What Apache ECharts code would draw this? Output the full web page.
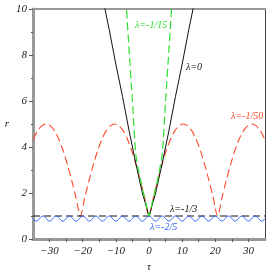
<!DOCTYPE html>
<html><head><meta charset="utf-8">
<script src="https://cdn.jsdelivr.net/npm/echarts@6/dist/echarts.min.js"></script>
<style>html,body{margin:0;padding:0;background:#fff}#c{width:270px;height:270px}</style>
</head><body><div id="c"></div>
<script>
// λ=0 (black solid)
const tauL0 = [-14,-12,-10,-8,-6,-4,-2,0,2,4,6,8,10,12,14];
const rL0   = [10.5,9.1,7.6,6.2,4.7,3.3,2.0,1,2.0,3.3,4.7,6.2,7.6,9.1,10.5];
// λ=-1/15 (green dashed)
const tauL15 = [-7.5,-6.8,-6,-5,-4,-3,-2,-1,0,1,2,3,4,5,6,6.8,7.5];
const rL15   = [11.5,10,8.2,6.0,3.7,2.85,2.2,1.6,1,1.6,2.2,2.85,3.7,6.0,8.2,10,11.5];
// λ=-1/50 (red dashed)
const tauL50 = [-34.94,-33.64,-32.35,-31.06,-29.76,-28.47,-27.17,-25.88,-24.59,-23.29,-22.0,-20.7,-19.41,-18.12,-16.82,-15.53,-14.23,-12.94,-11.65,-10.35,-9.06,-7.76,-6.47,-5.18,-3.88,-2.59,-1.29,0,1.29,2.59,3.88,5.18,6.47,7.76,9.06,10.35,11.65,12.94,14.23,15.53,16.82,18.12,19.41,20.7,22.0,23.29,24.59,25.88,27.17,28.47,29.76,31.06,32.35,33.64,34.94];
const rL50   = [4.33,4.70,4.92,5.0,4.92,4.70,4.33,3.83,3.22,2.53,1.78,1,1.78,2.53,3.22,3.83,4.33,4.70,4.92,5.0,4.92,4.70,4.33,3.83,3.22,2.53,1.78,1,1.78,2.53,3.22,3.83,4.33,4.70,4.92,5.0,4.92,4.70,4.33,3.83,3.22,2.53,1.78,1,1.78,2.53,3.22,3.83,4.33,4.70,4.92,5.0,4.92,4.70,4.33];
// λ=-1/3 (black dashed)
const tauL3 = [-35,35];
const rL3   = [1,1];
// λ=-2/5 (blue solid)
const tauL25 = [-35,-34.5,-34,-33.5,-33,-32.5,-32,-31.5,-31,-30.5,-30,-29.5,-29,-28.5,-28,-27.5,-27,-26.5,-26,-25.5,-25,-24.5,-24,-23.5,-23,-22.5,-22,-21.5,-21,-20.5,-20,-19.5,-19,-18.5,-18,-17.5,-17,-16.5,-16,-15.5,-15,-14.5,-14,-13.5,-13,-12.5,-12,-11.5,-11,-10.5,-10,-9.5,-9,-8.5,-8,-7.5,-7,-6.5,-6,-5.5,-5,-4.5,-4,-3.5,-3,-2.5,-2,-1.5,-1,-0.5,0,0.5,1,1.5,2,2.5,3,3.5,4,4.5,5,5.5,6,6.5,7,7.5,8,8.5,9,9.5,10,10.5,11,11.5,12,12.5,13,13.5,14,14.5,15,15.5,16,16.5,17,17.5,18,18.5,19,19.5,20,20.5,21,21.5,22,22.5,23,23.5,24,24.5,25,25.5,26,26.5,27,27.5,28,28.5,29,29.5,30,30.5,31,31.5,32,32.5,33,33.5,34,34.5,35];
const rL25 = [0.89,0.812,0.78,0.812,0.89,0.968,1.0,0.968,0.89,0.812,0.78,0.812,0.89,0.968,1.0,0.968,0.89,0.812,0.78,0.812,0.89,0.968,1.0,0.968,0.89,0.812,0.78,0.812,0.89,0.968,1.0,0.968,0.89,0.812,0.78,0.812,0.89,0.968,1.0,0.968,0.89,0.812,0.78,0.812,0.89,0.968,1.0,0.968,0.89,0.812,0.78,0.812,0.89,0.968,1.0,0.968,0.89,0.812,0.78,0.812,0.89,0.968,1.0,0.968,0.89,0.812,0.78,0.812,0.89,0.968,1.0,0.968,0.89,0.812,0.78,0.812,0.89,0.968,1.0,0.968,0.89,0.812,0.78,0.812,0.89,0.968,1.0,0.968,0.89,0.812,0.78,0.812,0.89,0.968,1.0,0.968,0.89,0.812,0.78,0.812,0.89,0.968,1.0,0.968,0.89,0.812,0.78,0.812,0.89,0.968,1.0,0.968,0.89,0.812,0.78,0.812,0.89,0.968,1.0,0.968,0.89,0.812,0.78,0.812,0.89,0.968,1.0,0.968,0.89,0.812,0.78,0.812,0.89,0.968,1.0,0.968,0.89,0.812,0.78,0.812,0.89,0.968,1.0,0.968,0.89];
const xTickLabels = [-30,-20,-10,0,10,20,30];
const xTicks = [-30,-25,-20,-15,-10,-5,0,5,10,15,20,25,30];

const pairs = (a,b) => a.map((v,i)=>[v,b[i]]);
const font = 'Liberation Serif';
const chart = echarts.init(document.getElementById('c'), null, {renderer:'canvas'});
chart.setOption({
  animation:false,
  grid:{left:33,right:5,top:9,bottom:31,containLabel:false,outerBoundsMode:'none'},
  xAxis:[{
    type:'value',min:-35,max:35,position:'bottom',
    axisLine:{onZero:false,lineStyle:{color:'#999',width:3}},
    axisTick:{show:true,customValues:xTicks,length:3,lineStyle:{color:'#555',width:1}},
    axisLabel:{customValues:xTickLabels,fontFamily:font,fontStyle:'italic',fontSize:11,color:'#222',margin:7,
      formatter:v=>v<0?'\u2212'+Math.abs(v):String(v)},
    splitLine:{show:false},
    name:'τ',nameLocation:'middle',nameGap:17,nameTextStyle:{fontFamily:font,fontStyle:'italic',fontSize:11,color:'#222'}
  },{
    type:'value',min:-35,max:35,position:'top',
    axisLine:{show:true,onZero:false,lineStyle:{color:'#999',width:2}},
    axisTick:{show:false},axisLabel:{show:false},splitLine:{show:false}
  }],
  yAxis:[{
    type:'value',min:0,max:10,interval:2,position:'left',
    axisLine:{show:true,onZero:false,lineStyle:{color:'#999',width:3}},
    axisTick:{show:true,length:4,lineStyle:{color:'#555',width:1}},
    minorTick:{show:true,splitNumber:2,length:2,lineStyle:{color:'#555',width:1}},
    axisLabel:{fontFamily:font,fontStyle:'italic',fontSize:11,color:'#222',margin:6},
    splitLine:{show:false},
    name:'r',nameLocation:'middle',nameGap:24,nameRotate:0,nameTextStyle:{fontFamily:font,fontStyle:'italic',fontSize:11,color:'#222'}
  },{
    type:'value',min:0,max:10,position:'right',
    axisLine:{show:true,onZero:false,lineStyle:{color:'#444',width:1}},
    axisTick:{show:false},axisLabel:{show:false},splitLine:{show:false}
  }],
  series:[
    {type:'line',data:pairs(tauL50,rL50),showSymbol:false,smooth:0.3,lineStyle:{color:'#ff4a2a',width:1.1,type:[8,4]}},
    {type:'line',data:pairs(tauL3,rL3),showSymbol:false,lineStyle:{color:'#111',width:1,type:[7,4]}},
    {type:'line',data:pairs(tauL25,rL25),showSymbol:false,smooth:true,lineStyle:{color:'#2a5cff',width:1}},
    {type:'line',data:pairs(tauL0,rL0),showSymbol:false,lineStyle:{color:'#111',width:1}},
    {type:'line',data:pairs(tauL15,rL15),showSymbol:false,smooth:0.2,lineStyle:{color:'#2ee02e',width:1.2,type:[8,4]}}
  ],
  graphic:[
    {type:'text',left:135,top:20,style:{text:'λ=-1/15',fill:'#2ee02e',font:'italic 10px "Liberation Serif"'}},
    {type:'text',left:186,top:62,style:{text:'λ=0',fill:'#111',font:'italic 10px "Liberation Serif"'}},
    {type:'text',left:231,top:111,style:{text:'λ=-1/50',fill:'#ff4a2a',font:'italic 10px "Liberation Serif"'}},
    {type:'text',left:170,top:204,style:{text:'λ=-1/3',fill:'#111',font:'italic 10px "Liberation Serif"'}},
    {type:'text',left:150,top:222,style:{text:'λ=-2/5',fill:'#2a5cff',font:'italic 10px "Liberation Serif"'}}
  ]
});
</script></body></html>
